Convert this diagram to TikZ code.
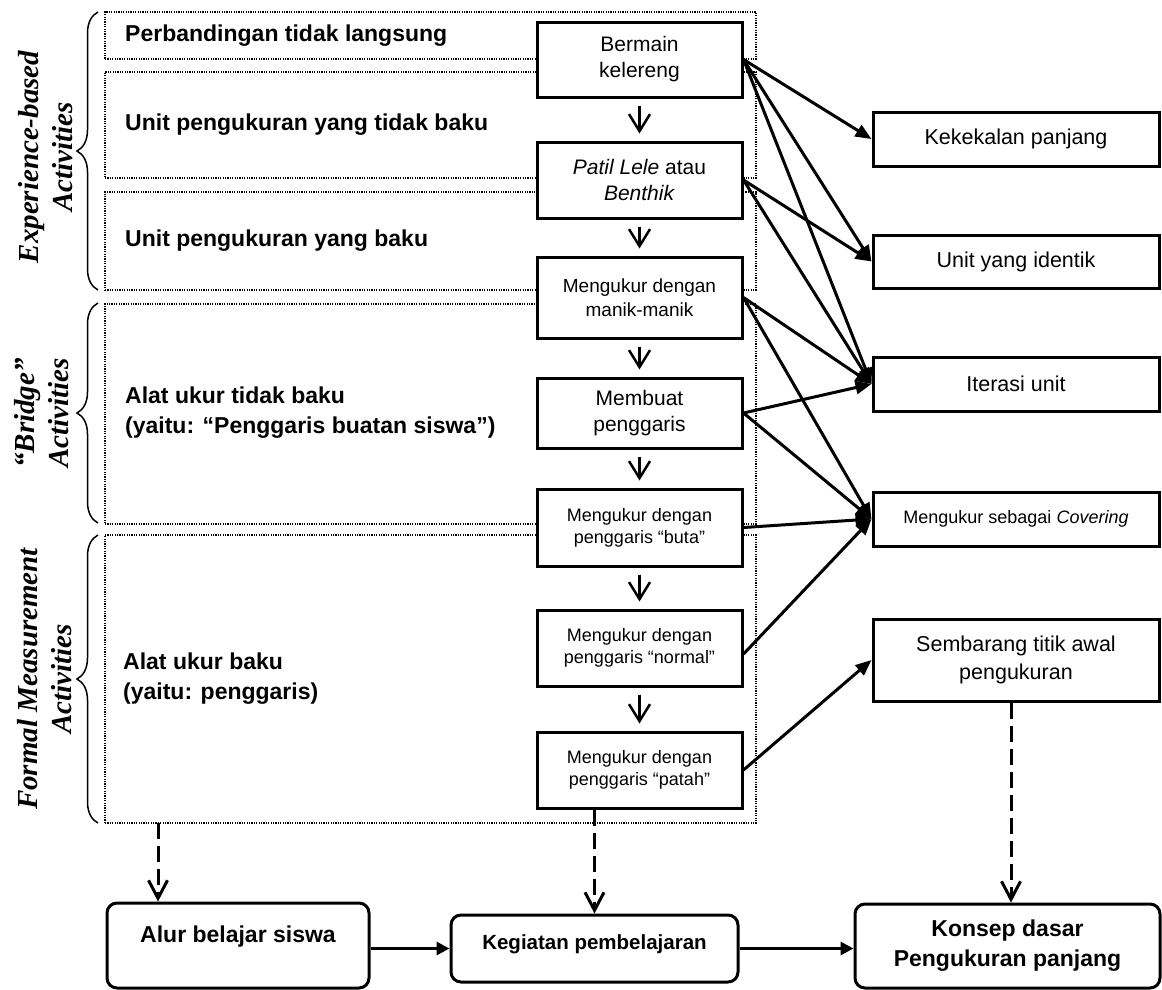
\documentclass[tikz,border=0pt]{standalone}
\usepackage{fontspec}
\setmainfont{Liberation Sans}
\newfontfamily\timesfont{Liberation Serif}
\usetikzlibrary{arrows.meta,decorations.pathreplacing}

\tikzset{
  area/.style={draw, line width=1.2pt, dash pattern=on 1.2pt off 1.2pt, minimum width=651pt, inner sep=0pt},
  kotak/.style={draw, line width=3pt, fill=white, minimum width=205pt, inner sep=0pt, align=center, font=\fontsize{21}{26}\selectfont},
  kecil/.style={font=\fontsize{18}{22}\selectfont},
  hasil/.style={draw, line width=3pt, fill=white, minimum width=286pt, inner sep=0pt, align=center, font=\fontsize{21.5}{28}\selectfont},
  akhir/.style={draw, line width=3pt, rounded corners=10pt, inner sep=0pt, align=center, font=\bfseries\fontsize{23}{30}\selectfont},
  judul/.style={anchor=west, align=left, inner sep=0pt, font=\bfseries\fontsize{23}{30}\selectfont},
  fase/.style={rotate=90, align=center, inner sep=0pt, font=\timesfont\bfseries\itshape\fontsize{29}{34}\selectfont},
  kurung/.style={decorate, decoration={brace, amplitude=21pt}, line width=1.5pt},
  panah/.style={line width=3pt, -{Triangle[length=16pt,width=13pt]}},
  turun/.style={line width=2.5pt, -{Straight Barb[length=17pt,width=21pt]}, shorten <=7pt, shorten >=7pt},
  putus/.style={line width=3pt, dash pattern=on 16pt off 7pt, -{Straight Barb[length=18pt,width=19pt]}}
}

\begin{document}
\begin{tikzpicture}[x=1pt,y=-1pt]
  \useasboundingbox (0,0) rectangle (1162,989);

  %% dotted areas, one for each kind of activity
  \node[area, minimum height=47pt]  (d1) at (430.5,35.5) {};
  \node[area, minimum height=106pt] (d2) at (430.5,125) {};
  \node[area, minimum height=98pt]  (d3) at (430.5,241) {};
  \node[area, minimum height=220pt] (d4) at (430.5,414) {};
  \node[area, minimum height=288pt] (d5) at (430.5,679) {};

  \node[judul] (t1) at (125,35.5) {Perbandingan tidak langsung};
  \node[judul] (t2) at (125,125) {Unit pengukuran yang tidak baku};
  \node[judul] (t3) at (125,241) {Unit pengukuran yang baku};
  \node[judul] (t4) at (125,413) {Alat ukur tidak baku\\(yaitu: “Penggaris buatan siswa”)};
  \node[judul] (t5) at (123,679) {Alat ukur baku\\(yaitu: penggaris)};

  %% braces and phase names on the left
  \draw[kurung] (98,290) -- (98,12);
  \draw[kurung] (98,523) -- (98,303);
  \draw[kurung] (98,823) -- (98,535);
  \node[fase] (f1) at (46,157) {Experience-based\\Activities};
  \node[fase] (f2) at (42,413) {“Bridge”\\Activities};
  \node[fase] (f3) at (45,679) {Formal Measurement\\Activities};

  %% activities
  \node[kotak, minimum height=75pt] (b1) at (639.5,59.5) {Bermain\\kelereng};
  \node[kotak, minimum height=76pt] (b2) at (639.5,180) {\textit{Patil Lele} atau\\\textit{Benthik}};
  \node[kotak, minimum height=81pt, font=\fontsize{19}{24}\selectfont] (b3) at (639.5,297.5) {Mengukur dengan\\manik-manik};
  \node[kotak, minimum height=70pt] (b4) at (639.5,413) {Membuat\\penggaris};
  \node[kotak, kecil, minimum height=77pt] (b5) at (639.5,527.5) {Mengukur dengan\\penggaris “buta”};
  \node[kotak, kecil, minimum height=76pt] (b6) at (639.5,648) {Mengukur dengan\\penggaris “normal”};
  \node[kotak, kecil, minimum height=76pt] (b7) at (639.5,770) {Mengukur dengan\\penggaris “patah”};

  \draw[turun] (b1) -- (b2);
  \draw[turun] (b2) -- (b3);
  \draw[turun] (b3) -- (b4);
  \draw[turun] (b4) -- (b5);
  \draw[turun] (b5) -- (b6);
  \draw[turun] (b6) -- (b7);

  %% basic concepts
  \node[hasil, minimum height=54pt] (r1) at (1016,139) {Kekekalan panjang};
  \node[hasil, minimum height=53pt] (r2) at (1016,261.5) {Unit yang identik};
  \node[hasil, minimum height=54pt] (r3) at (1016,384) {Iterasi unit};
  \node[hasil, kecil, minimum height=54pt] (r4) at (1016,519) {Mengukur sebagai \textit{Covering}};
  \node[hasil, minimum height=82pt] (r5) at (1016,660) {Sembarang titik awal\\pengukuran};

  \draw[panah] (b1.east) -- (r1.west);
  \draw[panah] (b1.east) -- (r2.west);
  \draw[panah] (b1.east) -- (r3.west);
  \draw[panah] (b2.east) -- (r2.west);
  \draw[panah] (b2.east) -- (r3.west);
  \draw[panah] (b3.east) -- (r3.west);
  \draw[panah] (b3.east) -- (r4.west);
  \draw[panah] (b4.east) -- (r3.west);
  \draw[panah] (b4.east) -- (r4.west);
  \draw[panah] (b5.east) -- (r4.west);
  \draw[panah] ([yshift=-6pt]b6.east) -- (r4.west);
  \draw[panah] (b7.east) -- (r5.west);

  %% bottom row
  \node[akhir, minimum width=262pt, minimum height=85pt, text height=17pt, text depth=24pt] (alur) at (238,945.5) {Alur belajar siswa};
  \node[akhir, minimum width=287pt, minimum height=67pt, text height=15pt, text depth=13pt, font=\bfseries\fontsize{20.5}{26}\selectfont] (kegiatan) at (594.5,948.5) {Kegiatan pembelajaran};
  \node[akhir, minimum width=305pt, minimum height=84pt] (konsep) at (1007.5,946) {Konsep dasar\\Pengukuran panjang};

  \coordinate (d5kaki) at (158,823);
  \draw[putus] (d5kaki) -- (d5kaki |- alur.north);
  \draw[putus] (b7.south -| kegiatan) -- (kegiatan.north);
  \draw[putus] ([xshift=-5pt]r5.south) -- ([xshift=-5pt]r5.south |- konsep.north);

  \draw[panah, -{Triangle[length=13pt,width=13pt]}] (kegiatan.west -| alur.east) -- (kegiatan.west);
  \draw[panah, -{Triangle[length=13pt,width=13pt]}] (kegiatan.east) -- (kegiatan.east -| konsep.west);
\end{tikzpicture}
\end{document}
